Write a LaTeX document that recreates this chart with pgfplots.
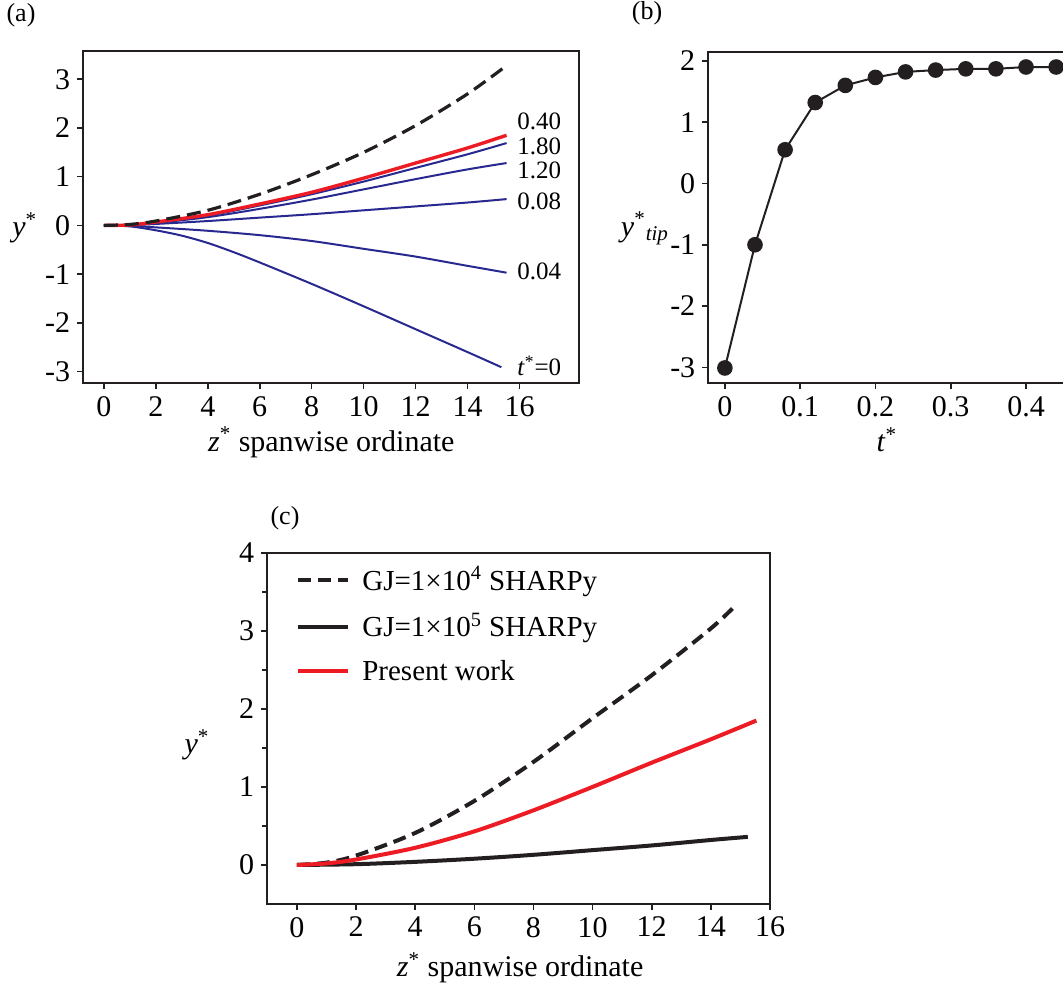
\documentclass[border=0pt]{standalone}
\usepackage{fontspec}
\setmainfont{Liberation Serif}
\usepackage{pgfplots}
\pgfplotsset{compat=1.18}

\definecolor{navy}{RGB}{40,40,145}
\definecolor{redl}{RGB}{237,28,36}
\definecolor{blk}{RGB}{35,31,32}

\pgfplotsset{panel/.style={
  scale only axis,
  axis line style={line width=1pt, blk},
  tick style={line width=0.8pt, blk},
  tick align=outside, tick pos=left,
  major tick length=3pt, minor tick length=2.5pt,
  /pgf/number format/assume math mode=true,
  tick label style={font=\fontsize{15}{17}\selectfont},
  label style={font=\fontsize{15}{17}\selectfont},
}}

\begin{document}
\begin{tikzpicture}

% (a) deflection along the span
\begin{axis}[panel,
  at={(41.65pt,302.85pt)}, anchor=south west,
  width=248pt, height=166.15pt,
  xmin=-0.79, xmax=18.3, ymin=-3.24, ymax=3.58,
  xtick={0,2,...,16}, ytick={-3,...,3},
  xlabel={\textit{z}\textsuperscript{*} spanwise ordinate},
  ylabel={\textit{y}\textsuperscript{*}},
  xlabel style={at={(axis description cs:0.5,-0.178)}, anchor=center},
  ylabel style={rotate=-90, at={(axis description cs:-0.118,0.467)}, anchor=center},
]
\addplot[navy, line width=1pt, smooth] coordinates {
  (0,0) (1,0.01) (2,0.06) (4,0.2) (6,0.41) (8,0.64) (10,0.9) (12,1.18) (14,1.46) (15.5,1.69)};
\addplot[navy, line width=1pt, smooth] coordinates {
  (0,0) (1,0.01) (2,0.05) (4,0.17) (6,0.34) (8,0.53) (10,0.74) (12,0.95) (14,1.15) (15.5,1.28)};
\addplot[navy, line width=1pt, smooth] coordinates {
  (0,0) (1,0.005) (2,0.03) (4,0.09) (6,0.16) (8,0.23) (10,0.31) (12,0.39) (14,0.47) (15.5,0.54)};
\addplot[navy, line width=1pt, smooth] coordinates {
  (0,0) (1,-0.01) (2,-0.04) (4,-0.11) (6,-0.2) (8,-0.32) (10,-0.48) (12,-0.64) (14,-0.83) (15.5,-0.97)};
\addplot[navy, line width=1pt, smooth] coordinates {
  (0,0) (1,-0.02) (2,-0.1) (3,-0.21) (4,-0.36) (5,-0.55) (6,-0.76) (8,-1.2) (10,-1.66) (12,-2.13) (14,-2.6) (15.3,-2.91)};
\addplot[redl, line width=1.7pt, smooth] coordinates {
  (0,0) (1,0.01) (2,0.07) (4,0.22) (6,0.44) (8,0.68) (10,0.97) (12,1.28) (14,1.59) (15.5,1.85)};
\addplot[blk, line width=1.6pt, dash pattern=on 7pt off 3.5pt, smooth] coordinates {
  (0,0) (1,0.02) (2,0.09) (4,0.31) (6,0.64) (8,1.04) (10,1.5) (12,2.05) (14,2.7) (15.5,3.28)};
\begin{scope}[font=\fontsize{12.5}{14}\selectfont]
\node[anchor=west, inner sep=0pt] at (axis cs:15.9,2.13) {0.40};
\node[anchor=west, inner sep=0pt] at (axis cs:15.9,1.62) {1.80};
\node[anchor=west, inner sep=0pt] at (axis cs:15.9,1.12) {1.20};
\node[anchor=west, inner sep=0pt] at (axis cs:15.9,0.50) {0.08};
\node[anchor=west, inner sep=0pt] at (axis cs:15.9,-0.95) {0.04};
\node[anchor=west, inner sep=0pt] at (axis cs:15.9,-2.88) {\textit{t}\textsuperscript{*}=0};
\end{scope}
\end{axis}

% (b) tip deflection over time
\begin{axis}[panel,
  at={(354.15pt,302.85pt)}, anchor=south west,
  width=185.2pt, height=165.8pt,
  xmin=-0.022, xmax=0.47, ymin=-3.26, ymax=2.15,
  xtick={0,0.1,0.2,0.3,0.4}, ytick={-3,...,2},
  xlabel={\textit{t}\textsuperscript{*}},
  ylabel={\textit{y}\textsuperscript{*}\textsubscript{\textit{tip}}},
  xlabel style={at={(axis description cs:0.482,-0.17)}, anchor=center},
  ylabel style={rotate=-90, at={(axis description cs:-0.171,0.467)}, anchor=center},
]
\addplot[blk, line width=1pt, mark=*, mark size=3.4pt, mark options={fill=blk}] coordinates {
  (0,-3.01) (0.04,-1.0) (0.08,0.55) (0.12,1.32) (0.16,1.60) (0.20,1.73)
  (0.24,1.82) (0.28,1.85) (0.32,1.87) (0.36,1.87) (0.40,1.90) (0.44,1.90)};
\end{axis}

% (c) comparison with SHARPy
\begin{axis}[panel,
  at={(133.65pt,42.5pt)}, anchor=south west,
  width=251.35pt, height=175.65pt,
  xmin=-1, xmax=16, ymin=-0.5, ymax=4,
  xtick={0,2,...,16}, ytick={0,...,4}, minor ytick={0.5,1.5,2.5,3.5},
  xlabel={\textit{z}\textsuperscript{*} spanwise ordinate},
  ylabel={\textit{y}\textsuperscript{*}},
  xlabel style={at={(axis description cs:0.503,-0.182)}, anchor=center},
  ylabel style={rotate=-90, at={(axis description cs:-0.14,0.453)}, anchor=center},
  legend style={at={(axis description cs:0.045,0.985)}, anchor=north west, draw=none, fill=none,
    font=\fontsize{14.5}{16.5}\selectfont, row sep=6pt},
  legend cell align=left,
  legend image code/.code={\draw[#1] (0pt,0pt) -- (25pt,0pt); \path (29pt,0pt);},
]
\addplot[blk, line width=2pt, dash pattern=on 6.5pt off 3.5pt, smooth] coordinates {
  (0,0) (1,0.03) (2,0.12) (4,0.41) (6,0.82) (8,1.32) (10,1.88) (12,2.43) (14,3.03) (14.85,3.33)};
\addlegendentry{GJ=1×10\textsuperscript{4} SHARPy}
\addplot[blk, line width=2pt, smooth] coordinates {
  (0,0) (2,0.01) (4,0.04) (6,0.08) (8,0.13) (10,0.19) (12,0.25) (14,0.32) (15.25,0.36)};
\addlegendentry{GJ=1×10\textsuperscript{5} SHARPy}
\addplot[redl, line width=2pt, smooth] coordinates {
  (0,0) (1,0.02) (2,0.07) (4,0.22) (6,0.43) (8,0.7) (10,1.0) (12,1.31) (14,1.61) (15.54,1.85)};
\addlegendentry{Present work}
\end{axis}

\begin{scope}[font=\fontsize{13}{15}\selectfont]
\node at (10.5pt,487pt) {(a)};
\node at (323.5pt,488pt) {(b)};
\node at (142.5pt,235.5pt) {(c)};
\end{scope}

\pgfresetboundingbox
\useasboundingbox (0,0) rectangle (531.5pt,494.5pt);
\end{tikzpicture}
\end{document}
